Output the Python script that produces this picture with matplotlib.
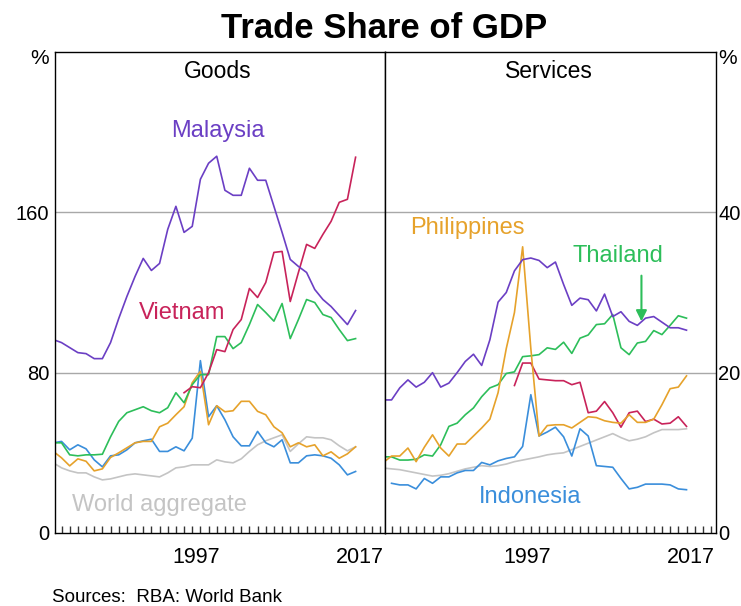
import matplotlib
matplotlib.use("Agg")
import matplotlib.pyplot as plt
import numpy as np

plt.rcParams['font.family'] = ['Liberation Sans', 'DejaVu Sans']

years = list(range(1980, 2018))
years_vn = list(range(1996, 2018))
years_id_s = list(range(1981, 2018))

# Goods trade, % of GDP
malaysia_g = [96.5, 95, 92.5, 90, 89.5, 87, 87, 95, 107, 118,
              128, 137, 131, 134.5, 151.5, 163, 150, 153, 176.5, 184.5,
              188, 171, 168.5, 168.5, 182, 176, 176, 163, 150, 136.5,
              133, 130, 121.5, 116.5, 113, 108.5, 104, 111]
vietnam_g = [70, 73, 72.5, 80, 91.5, 90.5, 101.5, 106.5, 122, 117.5, 125,
             140, 140.5, 115.5, 130, 144, 142, 149, 155.5, 165, 166.5, 187.5]
thailand_g = [45, 45, 39, 38.5, 39, 39, 39.3, 48, 55.7, 60,
              61.5, 63, 61, 60, 62.5, 70, 65, 74, 79, 79,
              98, 98, 92, 95, 104, 114, 110, 105.7, 114.5, 97,
              106.5, 116.5, 115, 109, 107.5, 101.5, 96, 97]
world_g = [35, 32.5, 31, 30, 30, 28, 26.5, 27, 28, 29,
           29.5, 29, 28.5, 28, 30, 32.5, 33, 34, 34, 34,
           36.5, 35.5, 35, 37, 40.7, 44, 46, 47.5, 49, 40.7,
           44.5, 48, 47.5, 47.5, 46.5, 43.5, 41, 43]
philippines_g = [40.7, 37.5, 33.5, 37, 35.8, 31, 32, 37.7, 40, 42.5,
                 45, 45.7, 45.7, 53, 54.8, 59, 63, 75, 80.7, 54,
                 63.5, 60.5, 61, 65.7, 65.7, 60.7, 59, 53, 50, 43,
                 45, 43, 44, 38.5, 40.5, 37.3, 39.5, 43]
indonesia_g = [45, 45.7, 41.5, 44, 42, 36.5, 33, 38.5, 39, 41.5,
               45, 46, 46.8, 40.7, 40.7, 43, 41, 47.3, 86, 58,
               63.5, 56.5, 48, 43.5, 43.5, 50.7, 45, 43, 46.5, 35,
               35, 38.5, 39, 38.5, 37.3, 34, 29, 30.7]

# Services trade, % of GDP
malaysia_s = [16.6, 16.6, 18.1, 19.1, 18.2, 18.8, 20, 18.2, 18.7, 20,
              21.4, 22.3, 20.9, 24.1, 28.8, 30, 32.7, 34.1, 34.3, 34,
              33.1, 33.8, 31, 28.4, 29.3, 29.1, 27.7, 29.8, 27, 27.6,
              26.4, 25.9, 26.8, 27, 26.3, 25.6, 25.6, 25.3]
philippines_s = [8.8, 9.6, 9.6, 10.6, 8.9, 10.7, 12.25, 10.6, 9.6, 11.1,
                 11.1, 12.1, 13.1, 14.2, 17.5, 23.0, 27.5, 35.7, 23, 12.1,
                 13.4, 13.5, 13.5, 13.1, 13.8, 14.5, 14.4, 14, 13.8, 13.7,
                 14.75, 13.8, 13.8, 14.2, 16, 18, 18.2, 19.6]
vietnam_s = [18.4, 21.2, 21.2, 19.2, 19.1, 19.0, 19.0, 18.5, 18.8, 15.0, 15.2,
             16.4, 15.0, 13.2, 15.0, 15.2, 13.9, 14.2, 13.6, 13.7, 14.5, 13.3]
thailand_s = [9.5, 9.5, 9.1, 9.1, 9.2, 9.75, 9.6, 11, 13.3, 13.7,
              14.75, 15.6, 17, 18.1, 18.5, 19.9, 20.1, 22, 22.1, 22.25,
              23.1, 22.9, 23.8, 22.4, 24.3, 24.7, 26, 26.1, 27.25, 23.1,
              22.25, 23.7, 23.9, 25.25, 24.75, 25.9, 27.1, 26.8]
world_s = [8.1, 8.0, 7.9, 7.7, 7.5, 7.3, 7.1, 7.2, 7.4, 7.7,
           8.0, 8.2, 8.4, 8.3, 8.4, 8.6, 8.9, 9.1, 9.3, 9.5,
           9.75, 9.9, 10.0, 10.4, 10.8, 11.2, 11.6, 12.0, 12.4, 11.9,
           11.5, 11.7, 12.0, 12.5, 12.9, 12.9, 12.9, 13.0]
indonesia_s = [6.2, 6.0, 6.0, 5.5, 6.8, 6.2, 7.0, 7.0, 7.5, 7.8,
               7.8, 8.8, 8.5, 9.0, 9.3, 9.5, 10.8, 17.25, 12.1, 12.6,
               13.2, 12.0, 9.6, 13.0, 12.1, 8.4, 8.3, 8.2, 6.8, 5.5,
               5.7, 6.1, 6.1, 6.1, 6.0, 5.5, 5.4]

c_mal = '#6B3FC4'
c_vn = '#C8235A'
c_th = '#2DBE5A'
c_ph = '#E6A22B'
c_id = '#3A8EDB'
c_w = '#C4C4C4'
grid_c = '#A8A8A8'

W, H = 741, 606
fig = plt.figure(figsize=(W / 100, H / 100), dpi=100)

def fx(px):
    return px / W

def fy(py):
    return 1 - py / H

ax1 = fig.add_axes([fx(55), fy(533), 330 / W, 481 / H])
ax2 = fig.add_axes([fx(385), fy(533), 331 / W, 481 / H])

xlim = (1980.2, 2020.6)
lw = 1.2
tick_fs = 14.5

for ax, top, grid_vals, ticks in [(ax1, 240, [80, 160], [0, 80, 160]),
                                   (ax2, 60, [20, 40], [0, 20, 40])]:
    ax.set_xlim(*xlim)
    ax.set_ylim(0, top)
    for g in grid_vals:
        ax.axhline(g, color=grid_c, lw=1.0, zorder=0)
    for s in ax.spines.values():
        s.set_color('black')
        s.set_linewidth(1.0)
    ax.set_xticks(list(range(1981, 2021)))
    ax.set_xticks([1997.5, 2017.5], minor=True)
    ax.set_xticklabels([])
    ax.set_xticklabels(['1997', '2017'], minor=True, fontsize=15.5)
    ax.tick_params(axis='x', which='major', direction='in', length=5, width=1, color='#333333')
    ax.tick_params(axis='x', which='minor', length=0, pad=10)
    ax.set_yticks(ticks)
    ax.set_yticklabels([str(t) for t in ticks], fontsize=tick_fs)
    ax.tick_params(axis='y', length=0, pad=4)

ax2.yaxis.tick_right()
ax2.tick_params(axis='y', which='both', length=0, pad=1.5, labelright=True, labelleft=False)

# Goods panel
ax1.plot(years, world_g, color=c_w, lw=lw)
ax1.plot(years, indonesia_g, color=c_id, lw=lw)
ax1.plot(years, philippines_g, color=c_ph, lw=lw)
ax1.plot(years, thailand_g, color=c_th, lw=lw)
ax1.plot(years_vn, vietnam_g, color=c_vn, lw=lw)
ax1.plot(years, malaysia_g, color=c_mal, lw=lw)

# Services panel
ax2.plot(years, world_s, color=c_w, lw=lw)
ax2.plot(years_id_s, indonesia_s, color=c_id, lw=lw)
ax2.plot(years, thailand_s, color=c_th, lw=lw)
ax2.plot(years_vn, vietnam_s, color=c_vn, lw=lw)
ax2.plot(years, philippines_s, color=c_ph, lw=lw)
ax2.plot(years, malaysia_s, color=c_mal, lw=lw)

lab = 17
ax1.text(2000.15, 200.5, 'Malaysia', color=c_mal, fontsize=lab, ha='center', va='center')
ax1.text(1995.7, 110, 'Vietnam', color=c_vn, fontsize=lab, ha='center', va='center')
ax1.text(1993.0, 14, 'World aggregate', color=c_w, fontsize=lab, ha='center', va='center')
ax2.text(1990.2, 38, 'Philippines', color=c_ph, fontsize=lab, ha='center', va='center')
ax2.text(2008.6, 34.6, 'Thailand', color=c_th, fontsize=lab, ha='center', va='center')
ax2.text(1997.95, 4.5, 'Indonesia', color=c_id, fontsize=lab, ha='center', va='center')
ax2.annotate('', xy=(2011.5, 26.4), xytext=(2011.5, 32.1),
             arrowprops=dict(arrowstyle='-|>', color=c_th, lw=1.5,
                             mutation_scale=16, shrinkA=0, shrinkB=0))

fig.text(fx(384), fy(28), 'Trade Share of GDP', fontsize=25, fontweight='bold',
         ha='center', va='center')
fig.text(fx(218), fy(72), 'Goods', fontsize=16.5, ha='center', va='center')
fig.text(fx(549), fy(72), 'Services', fontsize=16.5, ha='center', va='center')
fig.text(fx(40), fy(58), '%', fontsize=15, ha='center', va='center')
fig.text(fx(728), fy(58), '%', fontsize=15, ha='center', va='center')
fig.text(fx(52), fy(598), 'Sources:  RBA: World Bank', fontsize=13.5, ha='left', va='center')

fig.savefig('out.png', dpi=100)
